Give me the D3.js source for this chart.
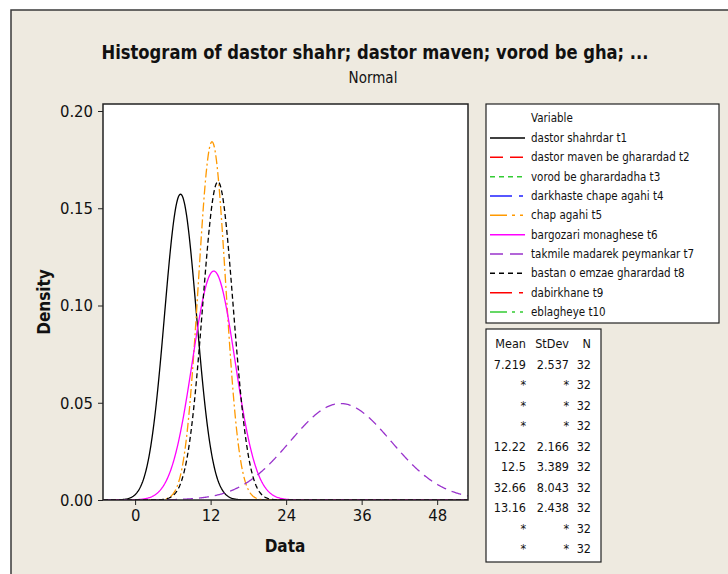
<!doctype html>
<html lang="en">
<head>
<meta charset="utf-8">
<title>Histogram - Normal</title>
<script src="https://cdn.jsdelivr.net/npm/d3@7"></script>
<style>
  body { margin: 0; background: #fff; }
  text { font-family: "DejaVu Sans Condensed", "DejaVu Sans", sans-serif; fill: #111; }
</style>
</head>
<body>
<svg width="728" height="574"></svg>
<script>
// values read from the Minitab output
var variables = ["dastor shahrdar t1", "dastor maven be gharardad t2", "vorod be gharardadha t3",
                 "darkhaste chape agahi t4", "chap agahi t5", "bargozari monaghese  t6",
                 "takmile madarek peymankar t7", "bastan o emzae gharardad t8", "dabirkhane t9", "eblagheye t10"];
var means  = [7.219, null, null, null, 12.22, 12.5, 32.66, 13.16, null, null];
var stdevs = [2.537, null, null, null, 2.166, 3.389, 8.043, 2.438, null, null];
var counts = [32, 32, 32, 32, 32, 32, 32, 32, 32, 32];
var xTicks = [0, 12, 24, 36, 48];
var yTicks = [0, 0.05, 0.10, 0.15, 0.20];

var colors = ["#000000", "#ff0000", "#33cc33", "#2020ff", "#ff9900",
              "#ff00ff", "#9933cc", "#000000", "#ff0000", "#33cc33"];
var dashes = [null, "13,7", "5,4", "22,7,4,7", "17,5,3,5,3,5",
              null, "13,7", "5,4", "22,7,4,7", "17,5,3,5,3,5"];
var curveDashes = [null, "8,5", "4,3", "12,4,3,4", "9,3,2,3",
                   null, "10,6", "5,3", "12,4,3,4", "9,3,2,3"];

var svg = d3.select("svg");
var plot = {left: 103, top: 104, right: 468, bottom: 500};

// outer beige panel
svg.append("rect")
    .attr("x", 11).attr("y", 10)
    .attr("width", 740).attr("height", 600)
    .attr("fill", "#eeeae0")
    .attr("stroke", "#3a3a3a").attr("stroke-width", 1.5);

// title
svg.append("text")
    .attr("x", 375).attr("y", 59)
    .attr("text-anchor", "middle")
    .attr("font-size", 19).attr("font-weight", "bold")
    .attr("textLength", 547).attr("lengthAdjust", "spacingAndGlyphs")
    .text("Histogram of dastor shahr; dastor maven; vorod be gha; ...");
svg.append("text")
    .attr("x", 373).attr("y", 83)
    .attr("text-anchor", "middle")
    .attr("font-size", 15)
    .text("Normal");

var x = d3.scaleLinear().domain([-5.1, 52.9]).range([plot.left, plot.right]);
var y = d3.scaleLinear().domain([0, 0.2036]).range([plot.bottom, plot.top]);

svg.append("rect")
    .attr("x", plot.left).attr("y", plot.top)
    .attr("width", plot.right - plot.left).attr("height", plot.bottom - plot.top)
    .attr("fill", "#fff");

svg.append("clipPath").attr("id", "clip")
  .append("rect")
    .attr("x", plot.left).attr("y", plot.top)
    .attr("width", plot.right - plot.left).attr("height", plot.bottom - plot.top);

// fitted normal curves
function pdf(v, m, s) {
    var z = (v - m) / s;
    return Math.exp(-0.5 * z * z) / (s * Math.sqrt(2 * Math.PI));
}
var xs = d3.range(-5.1, 53, 0.1);
var line = d3.line()
    .x(function(d) { return x(d[0]); })
    .y(function(d) { return y(d[1]); });

var curveG = svg.append("g").attr("clip-path", "url(#clip)");
means.forEach(function(m, i) {
    if (m == null) return;
    var pts = xs.map(function(v) { return [v, pdf(v, m, stdevs[i])]; });
    curveG.append("path")
        .attr("d", line(pts))
        .attr("fill", "none")
        .attr("stroke", colors[i])
        .attr("stroke-width", 1.3)
        .attr("stroke-dasharray", curveDashes[i]);
});

// axes
svg.append("rect")
    .attr("x", plot.left).attr("y", plot.top)
    .attr("width", plot.right - plot.left).attr("height", plot.bottom - plot.top)
    .attr("fill", "none")
    .attr("stroke", "#222").attr("stroke-width", 1.5);

svg.append("g")
    .attr("transform", "translate(0," + plot.bottom + ")")
    .call(d3.axisBottom(x).tickValues(xTicks).tickSize(5).tickPadding(4))
    .call(function(g) {
        g.select(".domain").remove();
        g.selectAll("line").attr("stroke", "#222");
        g.selectAll("text").attr("font-size", 16.5).attr("font-family", null).attr("fill", "#111");
    });

svg.append("g")
    .attr("transform", "translate(" + plot.left + ",0)")
    .call(d3.axisLeft(y).tickValues(yTicks).tickSize(5).tickPadding(5).tickFormat(d3.format(".2f")))
    .call(function(g) {
        g.select(".domain").remove();
        g.selectAll("line").attr("stroke", "#222");
        g.selectAll("text").attr("font-size", 16.5).attr("font-family", null).attr("fill", "#111");
    });

svg.append("text")
    .attr("x", 285).attr("y", 552)
    .attr("text-anchor", "middle")
    .attr("font-size", 17).attr("font-weight", "bold")
    .text("Data");

svg.append("text")
    .attr("transform", "translate(50,302) rotate(-90)")
    .attr("text-anchor", "middle")
    .attr("font-size", 17).attr("font-weight", "bold")
    .text("Density");

// legend
var lg = svg.append("g");
lg.append("rect")
    .attr("x", 486).attr("y", 104).attr("width", 233).attr("height", 219)
    .attr("fill", "#fff").attr("stroke", "#222").attr("stroke-width", 1.2);
lg.append("text")
    .attr("x", 531).attr("y", 122)
    .attr("font-size", 11.5)
    .text("Variable");

var rowY = d3.scaleLinear().domain([0, 9]).range([138, 312]);
var items = lg.selectAll(".item")
    .data(variables)
    .enter().append("g")
    .attr("class", "item")
    .attr("transform", function(d, i) { return "translate(0," + rowY(i) + ")"; });
items.append("line")
    .attr("x1", 490).attr("x2", 525)
    .attr("stroke", function(d, i) { return colors[i]; })
    .attr("stroke-width", 1.5)
    .attr("stroke-dasharray", function(d, i) { return dashes[i]; });
items.append("text")
    .attr("x", 531).attr("y", 4)
    .attr("font-size", 11.5)
    .text(function(d) { return d; });

// stats table
var st = svg.append("g");
st.append("rect")
    .attr("x", 486).attr("y", 329).attr("width", 115).attr("height", 233)
    .attr("fill", "#fff").attr("stroke", "#222").attr("stroke-width", 1.2);
var cols = [526, 569, 591];
["Mean", "StDev", "N"].forEach(function(h, j) {
    st.append("text")
        .attr("x", cols[j]).attr("y", 348)
        .attr("text-anchor", "end")
        .attr("font-size", 12.5)
        .text(h);
});
var statY = d3.scaleLinear().domain([0, 9]).range([369, 553]);
variables.forEach(function(v, i) {
    var cells = [means[i] == null ? "*" : String(means[i]),
                 stdevs[i] == null ? "*" : String(stdevs[i]),
                 String(counts[i])];
    cells.forEach(function(c, j) {
        st.append("text")
            .attr("x", cols[j]).attr("y", statY(i))
            .attr("text-anchor", "end")
            .attr("font-size", 12.5)
            .text(c);
    });
});
</script>
</body>
</html>
